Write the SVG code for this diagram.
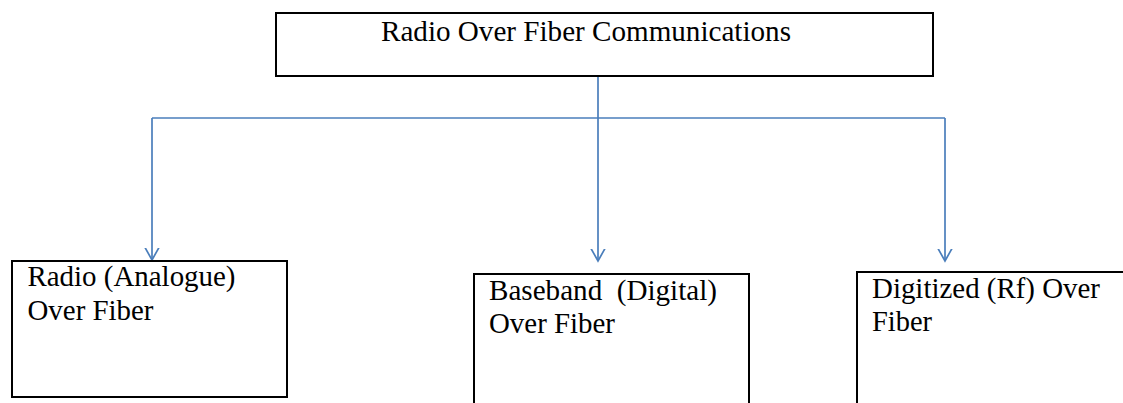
<svg xmlns="http://www.w3.org/2000/svg" width="1123" height="403" viewBox="0 0 1123 403">
  <style>
    .box { fill: #ffffff; stroke: #000000; stroke-width: 2; }
    .label { font-family: 'Liberation Serif', Tinos, 'Times New Roman', Times, serif; font-size: 29px; fill: #000000; }
    .conn { fill: none; stroke: #4a7ebb; stroke-width: 1.7; }
  </style>
  <defs>
    <marker id="open-arrow" markerUnits="userSpaceOnUse" markerWidth="24" markerHeight="24" viewBox="-12 -12 24 24" refX="0" refY="0" orient="auto">
      <path d="M-17,-9.5 L0,0 L-17,9.5" fill="none" stroke="#4a7ebb" stroke-width="1.7"/>
    </marker>
  </defs>
  <rect width="1123" height="403" fill="#ffffff"/>

  <!-- connectors: trunk, bus line and three drops -->
  <g id="connectors">
    <line class="conn" x1="598" y1="77" x2="598" y2="118"/>
    <line class="conn" x1="152" y1="118" x2="945" y2="118"/>
    <line class="conn" x1="152" y1="118" x2="152" y2="260" marker-end="url(#open-arrow)"/>
    <line class="conn" x1="598" y1="118" x2="598" y2="261" marker-end="url(#open-arrow)"/>
    <line class="conn" x1="945" y1="118" x2="945" y2="261" marker-end="url(#open-arrow)"/>
  </g>

  <g id="node-rof">
    <rect class="box" x="276" y="13" width="657" height="63"/>
    <text class="label" x="381" y="41" textLength="410" lengthAdjust="spacingAndGlyphs">Radio Over Fiber Communications</text>
  </g>

  <g id="node-analogue">
    <rect class="box" x="12" y="261" width="275" height="136"/>
    <text class="label" x="27.5" y="286" textLength="208" lengthAdjust="spacingAndGlyphs">Radio (Analogue)</text>
    <text class="label" x="27.5" y="320" textLength="126" lengthAdjust="spacingAndGlyphs">Over Fiber</text>
  </g>

  <g id="node-baseband">
    <rect class="box" x="474" y="274" width="275" height="140"/>
    <text class="label" x="489" y="300" textLength="228" lengthAdjust="spacingAndGlyphs" xml:space="preserve">Baseband  (Digital)</text>
    <text class="label" x="489" y="333" textLength="126" lengthAdjust="spacingAndGlyphs">Over Fiber</text>
  </g>

  <g id="node-digitized">
    <rect class="box" x="857" y="272" width="280" height="140"/>
    <text class="label" x="872" y="298" textLength="228" lengthAdjust="spacingAndGlyphs">Digitized (Rf) Over</text>
    <text class="label" x="872" y="331" textLength="60" lengthAdjust="spacingAndGlyphs">Fiber</text>
  </g>
</svg>
